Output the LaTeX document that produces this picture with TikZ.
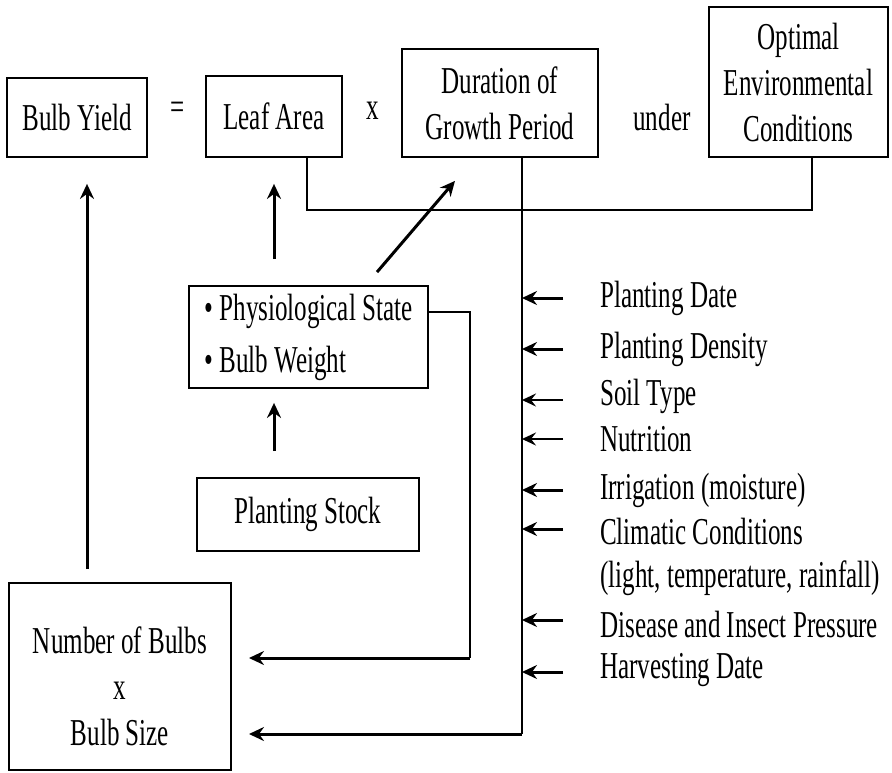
\documentclass[tikz,border=0pt]{standalone}
\usepackage{fontspec}
\setmainfont{Liberation Serif}[FakeStretch=0.66]
\usetikzlibrary{arrows.meta}
\tikzset{
  txt/.style={inner sep=0pt, font=\fontsize{38}{46}\selectfont},
  box/.style={draw, line width=1.8pt, inner sep=0pt, align=center, font=\fontsize{38}{46}\selectfont},
  conn/.style={line width=1.6pt},
  vline/.style={line width=2pt},
  arr/.style={line width=3pt, -{Stealth[length=15pt,width=14pt,inset=5pt]}},
  arrthin/.style={line width=2.2pt, -{Stealth[length=14pt,width=13pt,inset=5pt]}},
}
\begin{document}
\begin{tikzpicture}[x=1pt,y=-1pt]
\useasboundingbox (0,0) rectangle (892,772);
% top row
\node[box, minimum width=140pt, minimum height=79pt] (BY) at (77,117.5) {Bulb Yield};
\node[txt] (eq) at (178,111) {=};
\node[box, minimum width=136pt, minimum height=81pt] (LA) at (274,116.5) {Leaf Area};
\node[txt] (xx) at (373,111) {x};
\node[box, minimum width=196pt, minimum height=108pt] (DG) at (500,103) {Duration of\\Growth Period};
\node[txt] (un) at (662,117) {under};
\node[box, minimum width=179pt, minimum height=150pt] (OE) at (798.5,82) {Optimal\\Environmental\\Conditions};
% middle boxes
\node[box, minimum width=239pt, minimum height=102pt, align=left] (PS) at (308.5,337) {• Physiological State\\[6pt]• Bulb Weight};
\node[box, minimum width=222pt, minimum height=73pt] (PSt) at (308,514.5) {Planting Stock};
\node[box, minimum width=222pt, minimum height=187pt] (NB) at (120,676.5) {};
\node[txt, align=center] (NBt) at (120,686) {Number of Bulbs\\x\\Bulb Size};
% factors
\node[txt, anchor=west] (f1) at (600,298) {Planting Date};
\node[txt, anchor=west] (f2) at (600,349) {Planting Density};
\node[txt, anchor=west] (f3) at (600,396) {Soil Type};
\node[txt, anchor=west] (f4) at (600,439) {Nutrition};
\node[txt, anchor=west] (f5) at (600,490) {Irrigation (moisture)};
\node[txt, anchor=west] (f6) at (600,531) {Climatic Conditions};
\node[txt, anchor=west] (f6b) at (600,578) {(light, temperature, rainfall)};
\node[txt, anchor=west] (f7) at (600,624) {Disease and Insect Pressure};
\node[txt, anchor=west] (f8) at (600,670) {Harvesting Date};
% coordinates
\coordinate (cA) at (470,658);
\coordinate (nbA) at (249,658);
\coordinate (cB) at (522,734);
\coordinate (nbB) at (249,734);
% connectors
\draw[conn] ([xshift=33pt]LA.south) -- ++(0,52) -| ([xshift=13.5pt]OE.south);
\draw[vline] ([xshift=22pt]DG.south) -- (cB);
\draw[arr] (cB) -- (nbB);
\draw[vline] ([yshift=25pt]PS.east) -| (cA);
\draw[arr] (cA) -- (nbA);
\draw[arr] ([xshift=-34.5pt,yshift=26pt]PS.north) -- ([yshift=-26pt]LA.south);
\draw[arr] ([xshift=68.5pt,yshift=13pt]PS.north) -- ([xshift=-45pt,yshift=-23pt]DG.south);
\draw[arr] ([xshift=-34pt,yshift=26pt]PSt.north) -- ([xshift=-34.5pt,yshift=-14pt]PS.south);
\draw[arr] ([xshift=-33pt,yshift=13pt]NB.north) -- ([xshift=10pt,yshift=-26pt]BY.south);
% factor arrows
\draw[arr] ([xshift=-37pt]f1.west) -- ([xshift=-78pt]f1.west);
\draw[arr] ([xshift=-37pt]f2.west) -- ([xshift=-78pt]f2.west);
\draw[arrthin] ([xshift=-37pt,yshift=-4pt]f3.west) -- ([xshift=-78pt,yshift=-4pt]f3.west);
\draw[arrthin] ([xshift=-37pt]f4.west) -- ([xshift=-78pt]f4.west);
\draw[arr] ([xshift=-37pt]f5.west) -- ([xshift=-78pt]f5.west);
\draw[arr] ([xshift=-37pt,yshift=2pt]f6.west) -- ([xshift=-78pt,yshift=2pt]f6.west);
\draw[arr] ([xshift=-37pt,yshift=4pt]f7.west) -- ([xshift=-78pt,yshift=4pt]f7.west);
\draw[arr] ([xshift=-37pt,yshift=-2pt]f8.west) -- ([xshift=-78pt,yshift=-2pt]f8.west);
\end{tikzpicture}
\end{document}
